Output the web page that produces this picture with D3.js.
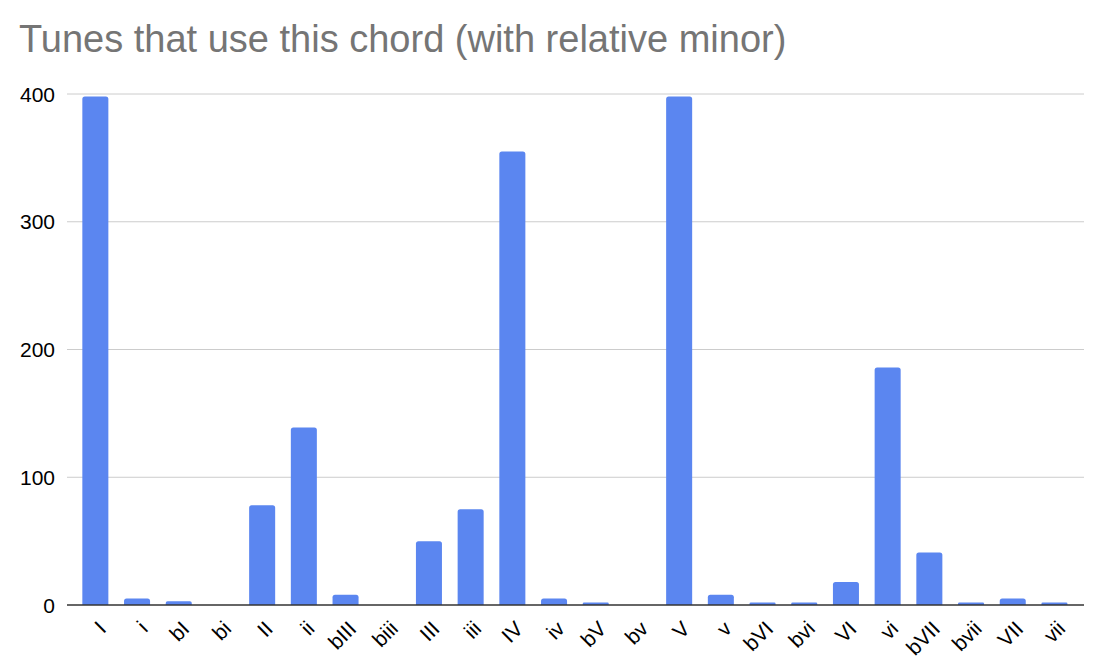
<!DOCTYPE html>
<html>
<head>
<meta charset="utf-8">
<script src="https://cdn.jsdelivr.net/npm/d3@7"></script>
<style>
  body { margin: 0; background: #fff; }
  svg { font-family: "Liberation Sans", Arial, sans-serif; }
  .grid line { stroke: #cccccc; stroke-width: 1; }
</style>
</head>
<body>
<svg id="chord_chart" width="1100" height="666"></svg>
<script>
// chord names along the x axis
const chords = ["I", "i", "bI", "bi", "II", "ii", "bIII", "biii", "III", "iii", "IV", "iv",
                "bV", "bv", "V", "v", "bVI", "bvi", "VI", "vi", "bVII", "bvii", "VII", "vii"];
// number of tunes using each chord
const tunes = [398, 5, 3, 0, 78, 139, 8, 0, 50, 75, 355, 5,
               2, 0, 398, 8, 2, 2, 18, 186, 41, 2, 5, 2];
const yTicks = [0, 100, 200, 300, 400];

const svg = d3.select('#chord_chart');
const margin = { top: 94, left: 67, right: 16, bottom: 61 };
const width = 1100, height = 666;
const plotBottom = height - margin.bottom; // 605

const xScale = d3.scaleBand()
    .domain(chords)
    .range([74.5, 1075.3])
    .paddingInner(0.376)
    .paddingOuter(0.188);

const yScale = d3.scaleLinear()
    .domain([0, 400])
    .range([plotBottom, margin.top]);

// title
svg.append('text')
    .attr('x', 19)
    .attr('y', 52)
    .attr('fill', '#757575')
    .style('font-size', '38px')
    .text('Tunes that use this chord (with relative minor)');

// gridlines
svg.append('g')
    .attr('class', 'grid')
    .selectAll('line')
    .data(yTicks.filter(d => d > 0))
    .enter()
    .append('line')
    .attr('x1', margin.left)
    .attr('x2', width - margin.right)
    .attr('y1', d => yScale(d))
    .attr('y2', d => yScale(d));

// y labels
svg.append('g')
    .selectAll('text')
    .data(yTicks)
    .enter()
    .append('text')
    .attr('x', 55)
    .attr('y', d => yScale(d))
    .attr('dy', '0.36em')
    .attr('text-anchor', 'end')
    .attr('fill', '#000')
    .style('font-size', '21px')
    .text(d => d);

// bars, rounded top corners
const r = 2.5;
svg.append('g')
    .selectAll('path')
    .data(chords.map((c, i) => ({ name: c, value: tunes[i] })).filter(d => d.value > 0))
    .enter()
    .append('path')
    .attr('fill', '#5B86F0')
    .attr('d', d => {
        const x0 = xScale(d.name), w = xScale.bandwidth();
        const y0 = yScale(d.value), yb = yScale(0);
        const rr = Math.min(r, (yb - y0) / 2);
        return `M${x0},${yb} V${y0 + rr} Q${x0},${y0} ${x0 + rr},${y0} H${x0 + w - rr} Q${x0 + w},${y0} ${x0 + w},${y0 + rr} V${yb} Z`;
    });

// baseline
svg.append('line')
    .attr('x1', margin.left)
    .attr('x2', width - margin.right)
    .attr('y1', plotBottom)
    .attr('y2', plotBottom)
    .attr('stroke', '#333')
    .attr('stroke-width', 1.5);

// x labels rotated
svg.append('g')
    .selectAll('text')
    .data(chords)
    .enter()
    .append('text')
    .attr('transform', d => `translate(${xScale(d) + xScale.bandwidth() / 2 + 12},${630}) rotate(-45)`)
    .attr('text-anchor', 'end')
    .attr('fill', '#000')
    .style('font-size', '21px')
    .text(d => d);
</script>
</body>
</html>
